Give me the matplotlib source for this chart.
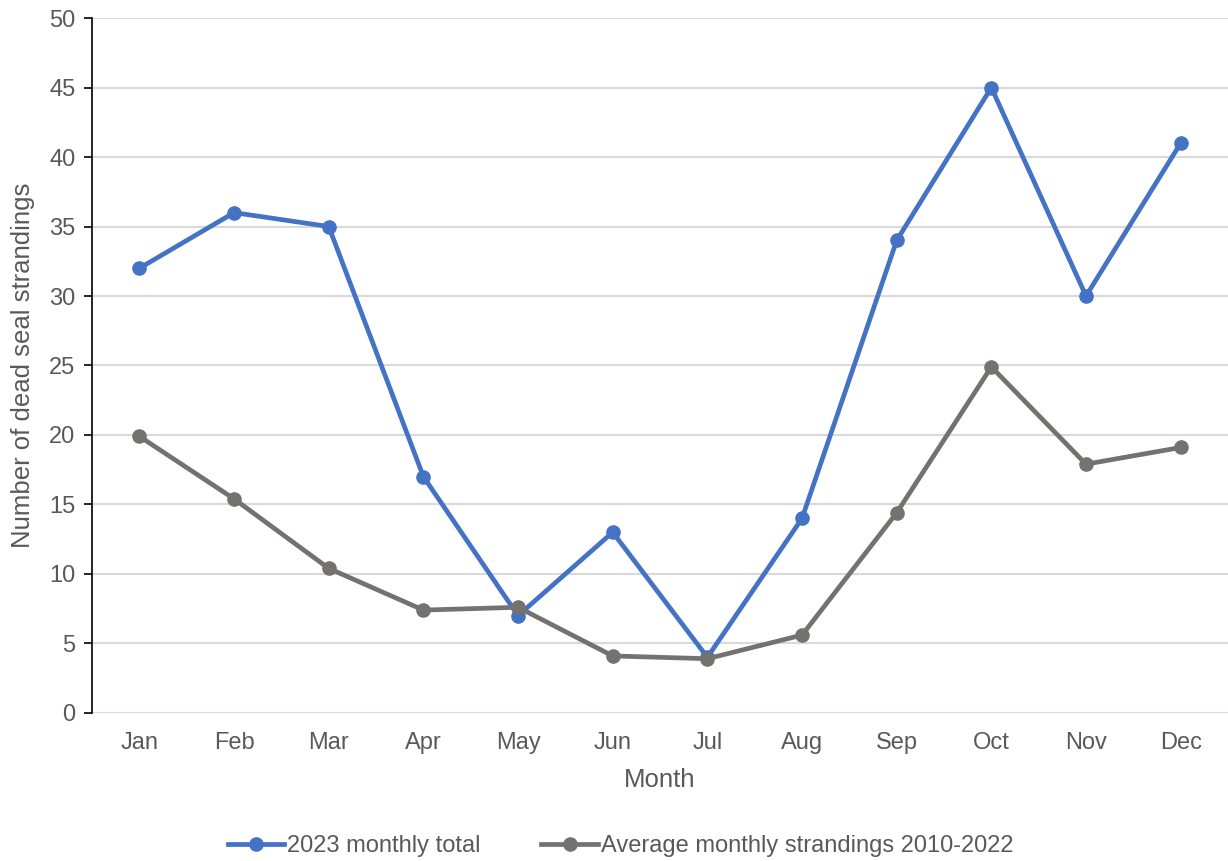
import matplotlib.pyplot as plt

plt.rcParams['font.family'] = ['Liberation Sans', 'DejaVu Sans']

months = ["Jan", "Feb", "Mar", "Apr", "May", "Jun",
          "Jul", "Aug", "Sep", "Oct", "Nov", "Dec"]
total_2023 = [32, 36, 35, 17, 7, 13, 4, 14, 34, 45, 30, 41]
avg_2010_2022 = [19.9, 15.4, 10.4, 7.4, 7.6, 4.1, 3.9, 5.6, 14.4, 24.9, 17.9, 19.1]

BLUE = "#4472C4"
GREY = "#767171"
TEXT = "#595959"

fig = plt.figure(figsize=(12.28, 8.61), dpi=100)
ax = fig.add_axes([0.075, 0.172, 0.925, 0.807])

x = range(len(months))
ax.plot(x, total_2023, color=BLUE, lw=3.4, marker="o", ms=9.5,
        label="2023 monthly total", zorder=3)
ax.plot(x, avg_2010_2022, color=GREY, lw=3.4, marker="o", ms=9.5,
        label="Average monthly strandings 2010-2022", zorder=3)

ax.set_xlim(-0.5, 11.5)
ax.set_ylim(0, 50)
ax.set_yticks(range(0, 51, 5))
ax.set_xticks(list(x))
ax.set_xticklabels(months)

ax.grid(axis="y", color="#d9d9d9", lw=1.5)
ax.set_axisbelow(True)
for side in ("top", "right", "bottom"):
    ax.spines[side].set_visible(False)
ax.spines["left"].set_color("black")
ax.spines["left"].set_linewidth(1.2)
ax.tick_params(axis="y", colors="black", labelcolor=TEXT, labelsize=17,
               length=6, width=1.2, direction="out", pad=6)
ax.tick_params(axis="x", length=0, labelcolor=TEXT, labelsize=17, pad=14)

ax.set_xlabel("Month", fontsize=18.5, color=TEXT, labelpad=10)
ax.set_ylabel("Number of dead seal strandings", fontsize=18.5, color=TEXT,
              labelpad=10)

ax.legend(loc="center", bbox_to_anchor=(0.465, -0.192), ncol=2,
          frameon=False, fontsize=17, labelcolor=TEXT, handlelength=2.4,
          handletextpad=0.1, columnspacing=2.6)

fig.savefig("out.png", dpi=100)
